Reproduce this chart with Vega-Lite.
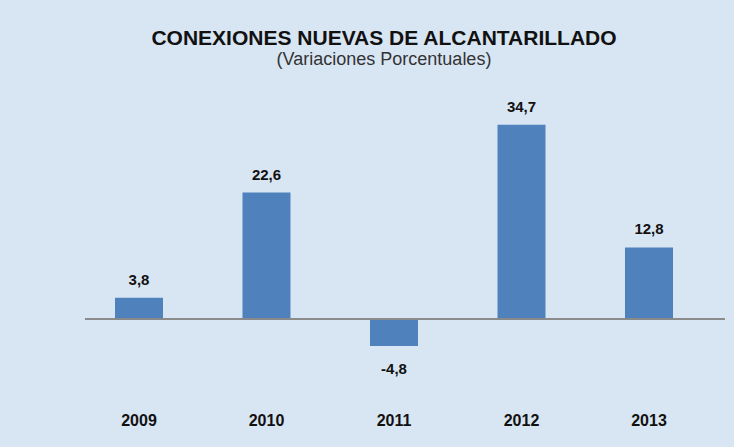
{
  "$schema": "https://vega.github.io/schema/vega-lite/v6.json",
  "autosize": {"type": "none"},
  "width": 640,
  "height": 297,
  "padding": {"left": 85, "top": 95, "right": 9, "bottom": 55},
  "background": "#d8e5f3",
  "config": {
    "locale": {"number": {"decimal": ",", "thousands": ".", "grouping": [3], "currency": ["", " €"], "minus": "-"}},
    "view": {"stroke": null}
  },
  "title": {
    "text": "CONEXIONES NUEVAS DE ALCANTARILLADO",
    "subtitle": "(Variaciones Porcentuales)",
    "font": "Liberation Sans",
    "fontSize": 21,
    "fontWeight": "bold",
    "color": "#111111",
    "subtitleFont": "Liberation Sans",
    "subtitleFontSize": 18,
    "subtitleColor": "#333333",
    "subtitlePadding": 2,
    "anchor": "middle",
    "dx": -21,
    "offset": 26
  },
  "data": {
    "values": [
      {"year": "2009", "value": 3.8},
      {"year": "2010", "value": 22.6},
      {"year": "2011", "value": -4.8},
      {"year": "2012", "value": 34.7},
      {"year": "2013", "value": 12.8}
    ]
  },
  "encoding": {
    "x": {
      "field": "year",
      "type": "ordinal",
      "scale": {"paddingInner": 0.6235, "paddingOuter": 0, "range": [30, 588]},
      "axis": {
        "title": null,
        "labelAngle": 0,
        "domain": false,
        "ticks": false,
        "labelPadding": 20,
        "labelFont": "Liberation Sans",
        "labelFontSize": 16,
        "labelFontWeight": "bold",
        "labelColor": "#111111"
      }
    },
    "y": {
      "field": "value",
      "type": "quantitative",
      "scale": {"domain": [-13, 40], "nice": false, "zero": false},
      "axis": null
    }
  },
  "layer": [
    {"mark": {"type": "bar", "color": "#4f81bd"}},
    {
      "mark": {"type": "rule", "color": "#8a8a8a", "strokeWidth": 1.5},
      "encoding": {"x": {"value": 0}, "x2": {"value": 640}, "y": {"datum": 0}}
    },
    {
      "transform": [{"filter": "datum.value >= 0"}],
      "mark": {"type": "text", "baseline": "bottom", "dy": -10, "font": "Liberation Sans", "fontSize": 15, "fontWeight": "bold", "color": "#111111"},
      "encoding": {"text": {"field": "value", "format": ".1f"}}
    },
    {
      "transform": [{"filter": "datum.value < 0"}],
      "mark": {"type": "text", "baseline": "top", "dy": 16, "font": "Liberation Sans", "fontSize": 15, "fontWeight": "bold", "color": "#111111"},
      "encoding": {"text": {"field": "value", "format": ".1f"}}
    }
  ]
}
